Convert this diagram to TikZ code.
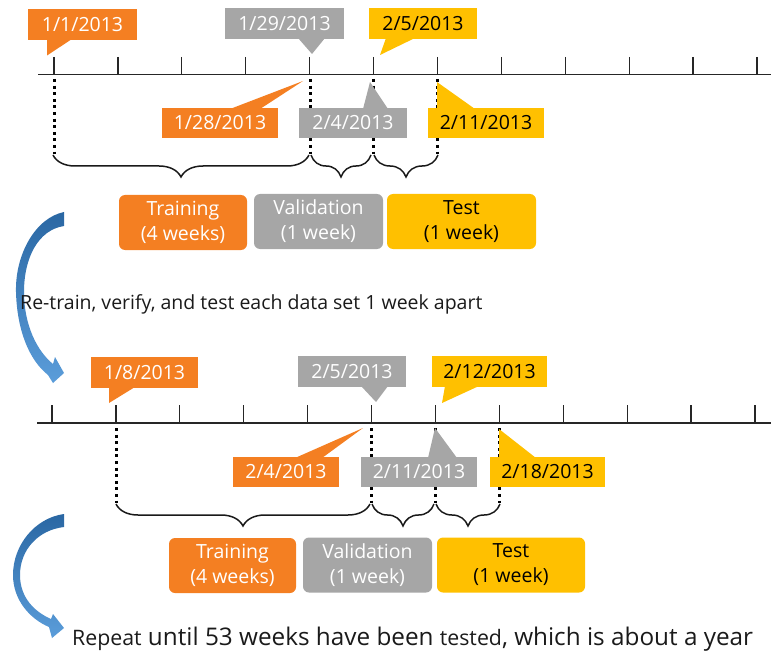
\documentclass[tikz,border=0pt]{standalone}
\usepackage{fontspec}
\setmainfont{Open Sans}
\usetikzlibrary{decorations.pathreplacing}
\definecolor{cOrange}{HTML}{F47F22}
\definecolor{cGray}{HTML}{A6A6A6}
\definecolor{cYellow}{HTML}{FFC000}
\definecolor{cBlueA}{HTML}{2A67A3}
\definecolor{cBlueB}{HTML}{5B9DDA}
\definecolor{cInk}{HTML}{1A1A1A}
\begin{document}
\begin{tikzpicture}[x=1pt,y=-1pt,
  datebox/.style={rectangle, inner sep=0pt, minimum height=31pt, font=\fontsize{19.5}{22}\selectfont},
  ofill/.style={fill=cOrange, text=white},
  gfill/.style={fill=cGray, text=white},
  yfill/.style={fill=cYellow, text=black},
  phase/.style={rectangle, rounded corners=6pt, inner sep=0pt, minimum height=55pt, align=center, font=\fontsize{19.5}{25}\selectfont},
  axisline/.style={line width=1.6pt, draw=black!85},
  tickline/.style={line width=1.2pt, draw=black!85},
  dotline/.style={line width=3pt, dash pattern=on 3pt off 3.6pt, draw=black},
  bracepath/.style={decorate, decoration={brace, mirror, amplitude=22pt}, line width=1.5pt, draw=black!90},
  bluearrow/.style={top color=cBlueA, bottom color=cBlueB, draw=none},
  note/.style={anchor=base west, inner sep=0pt, text=cInk},
]
\useasboundingbox (0,0) rectangle (771,655);

% ---------- top timeline ----------
\draw[axisline] (38,74.5) -- (771,74.5);
\foreach \i in {0,...,11} \draw[tickline] ({54+63.9*\i},57) -- ({54+63.9*\i},74.5);
\foreach \x in {54,310,373,437} \draw[dotline] (\x,79) -- (\x,154);
\draw[bracepath] (53,155) -- (309,155);
\draw[bracepath] (311,155) -- (371,155);
\draw[bracepath] (374,155) -- (438,155);

\node[datebox, ofill, minimum width=109pt] (d11) at (82.5,24.5) {1/1/2013};
\fill[cOrange] (47,39) -- (72,39) -- (47,55.5) -- cycle;
\node[datebox, gfill, minimum width=119pt] (d129) at (284.5,23.5) {1/29/2013};
\fill[cGray] (298,38) -- (325,38) -- (312,54) -- cycle;
\node[datebox, yfill, minimum width=108pt] (d25) at (423,23.5) {2/5/2013};
\fill[cYellow] (386,38) -- (415,38) -- (380,55) -- cycle;

\node[datebox, ofill, minimum width=116pt, minimum height=30pt] (d128) at (220,123) {1/28/2013};
\fill[cOrange] (230,109) -- (260,109) -- (303,81) -- cycle;
\node[datebox, gfill, minimum width=108pt, minimum height=30pt] (d24) at (353,123) {2/4/2013};
\fill[cGray] (363,109) -- (388,109) -- (370,82) -- cycle;
\node[datebox, yfill, minimum width=116pt, minimum height=30pt] (d211) at (486,123) {2/11/2013};
\fill[cYellow] (437,109) -- (475,109) -- (437,82) -- cycle;

\node[phase, ofill, minimum width=128pt] (tr1) at (183,222.5) {Training\\(4 weeks)};
\node[phase, gfill, minimum width=129pt] (va1) at (318.5,221.5) {Validation\\(1 week)};
\node[phase, yfill, minimum width=149pt] (te1) at (461.5,221.5) {Test\\(1 week)};

% ---------- first curved arrow ----------
\shade[bluearrow] (64,212) .. controls (35,218) and (15,255) .. (16,292)
  .. controls (17,330) and (29,360) .. (48,375) -- (53,383) -- (64,373) -- (55,357) -- (53,364)
  .. controls (37,351) and (24,325) .. (24,292) .. controls (24,258) and (38,230) .. (64,226) -- cycle;

\node[note, font=\fontsize{19.5}{22}\selectfont] (rt) at (20,309) {Re-train, verify, and test each data set 1 week apart};

% ---------- bottom timeline ----------
\draw[axisline] (37,423) -- (771,423);
\foreach \i in {0,...,11} \draw[tickline] ({52+63.9*\i},405) -- ({52+63.9*\i},423);
\foreach \x in {116,371,435,499} \draw[dotline] (\x,428) -- (\x,503);
\draw[bracepath] (116,504) -- (370,504);
\draw[bracepath] (372,504) -- (434,504);
\draw[bracepath] (436,504) -- (500,504);

\node[datebox, ofill, minimum width=107pt] (e18) at (144.5,372.5) {1/8/2013};
\fill[cOrange] (109,387) -- (135,387) -- (109,403) -- cycle;
\node[datebox, gfill, minimum width=108pt] (e25) at (352,371.5) {2/5/2013};
\fill[cGray] (361,386) -- (388,386) -- (376,402) -- cycle;
\node[datebox, yfill, minimum width=115pt] (e212) at (489.5,371.5) {2/12/2013};
\fill[cYellow] (445,386) -- (479,386) -- (442,403) -- cycle;

\node[datebox, ofill, minimum width=106pt, minimum height=30pt] (e24) at (286,472) {2/4/2013};
\fill[cOrange] (295,458) -- (322,458) -- (363,428) -- cycle;
\node[datebox, gfill, minimum width=116pt, minimum height=30pt] (e211) at (419,472) {2/11/2013};
\fill[cGray] (428,458) -- (457,458) -- (435,428) -- cycle;
\node[datebox, yfill, minimum width=115pt, minimum height=30pt] (e218) at (547.5,472) {2/18/2013};
\fill[cYellow] (499,458) -- (536,458) -- (499,429) -- cycle;

\node[phase, ofill, minimum width=127pt] (tr2) at (232.5,565.5) {Training\\(4 weeks)};
\node[phase, gfill, minimum width=129pt] (va2) at (367.5,565) {Validation\\(1 week)};
\node[phase, yfill, minimum width=148pt] (te2) at (511,565) {Test\\(1 week)};

% ---------- second curved arrow ----------
\shade[bluearrow] (64,514) .. controls (35,518) and (13,545) .. (13,575)
  .. controls (13,600) and (30,619) .. (49,627) -- (52,638) -- (64,628) -- (53,614) -- (51,619)
  .. controls (35,612) and (20,598) .. (20,575) .. controls (20,550) and (38,530) .. (64,527) -- cycle;

\node[note, font=\fontsize{24.3}{26}\selectfont] (rp) at (72,645) {{\fontsize{21.3}{24}\selectfont Repeat} until 53 weeks have been {\fontsize{21.3}{24}\selectfont tested}, which is about a year};
\end{tikzpicture}
\end{document}
